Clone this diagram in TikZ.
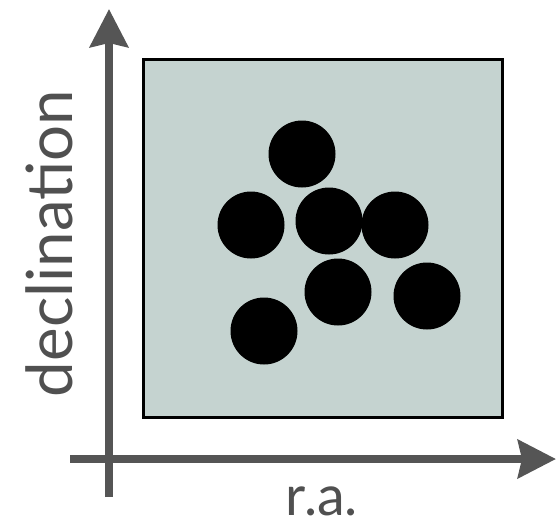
\documentclass[tikz,border=0pt]{standalone}
\usepackage{fontspec}
\setmainfont{Lato}
\usetikzlibrary{arrows.meta}
\definecolor{axisgray}{HTML}{555555}
\definecolor{textgray}{HTML}{505050}
\definecolor{panelfill}{HTML}{C5D3D0}
\tikzset{
  axisline/.style={draw=axisgray,line width=8pt,-{Stealth[length=38pt,width=38pt,inset=4pt]}},
  star/.style={circle,fill=black,minimum size=67pt,inner sep=0pt},
  axislabel/.style={text=textgray,inner sep=0pt,anchor=base},
}
\begin{document}
\begin{tikzpicture}[x=1pt,y=-1pt]
\useasboundingbox (0,0) rectangle (556,523);
\node[draw=black,line width=3pt,fill=panelfill,minimum width=359pt,minimum height=358pt,inner sep=0pt] (panel) at (322.5,238) {};
\node[star] (s1) at (302,154) {};
\node[star] (s2) at (251,225) {};
\node[star] (s3) at (329,221) {};
\node[star] (s4) at (395,225) {};
\node[star] (s5) at (338,292) {};
\node[star] (s6) at (427,296) {};
\node[star] (s7) at (264,331) {};
\coordinate (ybot) at (109,497);
\coordinate (ytop) at (109,9);
\coordinate (xleft) at (70,459);
\coordinate (xright) at (556,459);
\draw[axisline] (ybot) -- (ytop);
\draw[axisline] (xleft) -- (xright);
\node[axislabel,rotate=90] (ylab) at (72,243.5) {\resizebox{307pt}{!}{declination}};
\node[axislabel] (xlab) at (322,515) {\resizebox{72pt}{!}{r.a.}};
\end{tikzpicture}
\end{document}
